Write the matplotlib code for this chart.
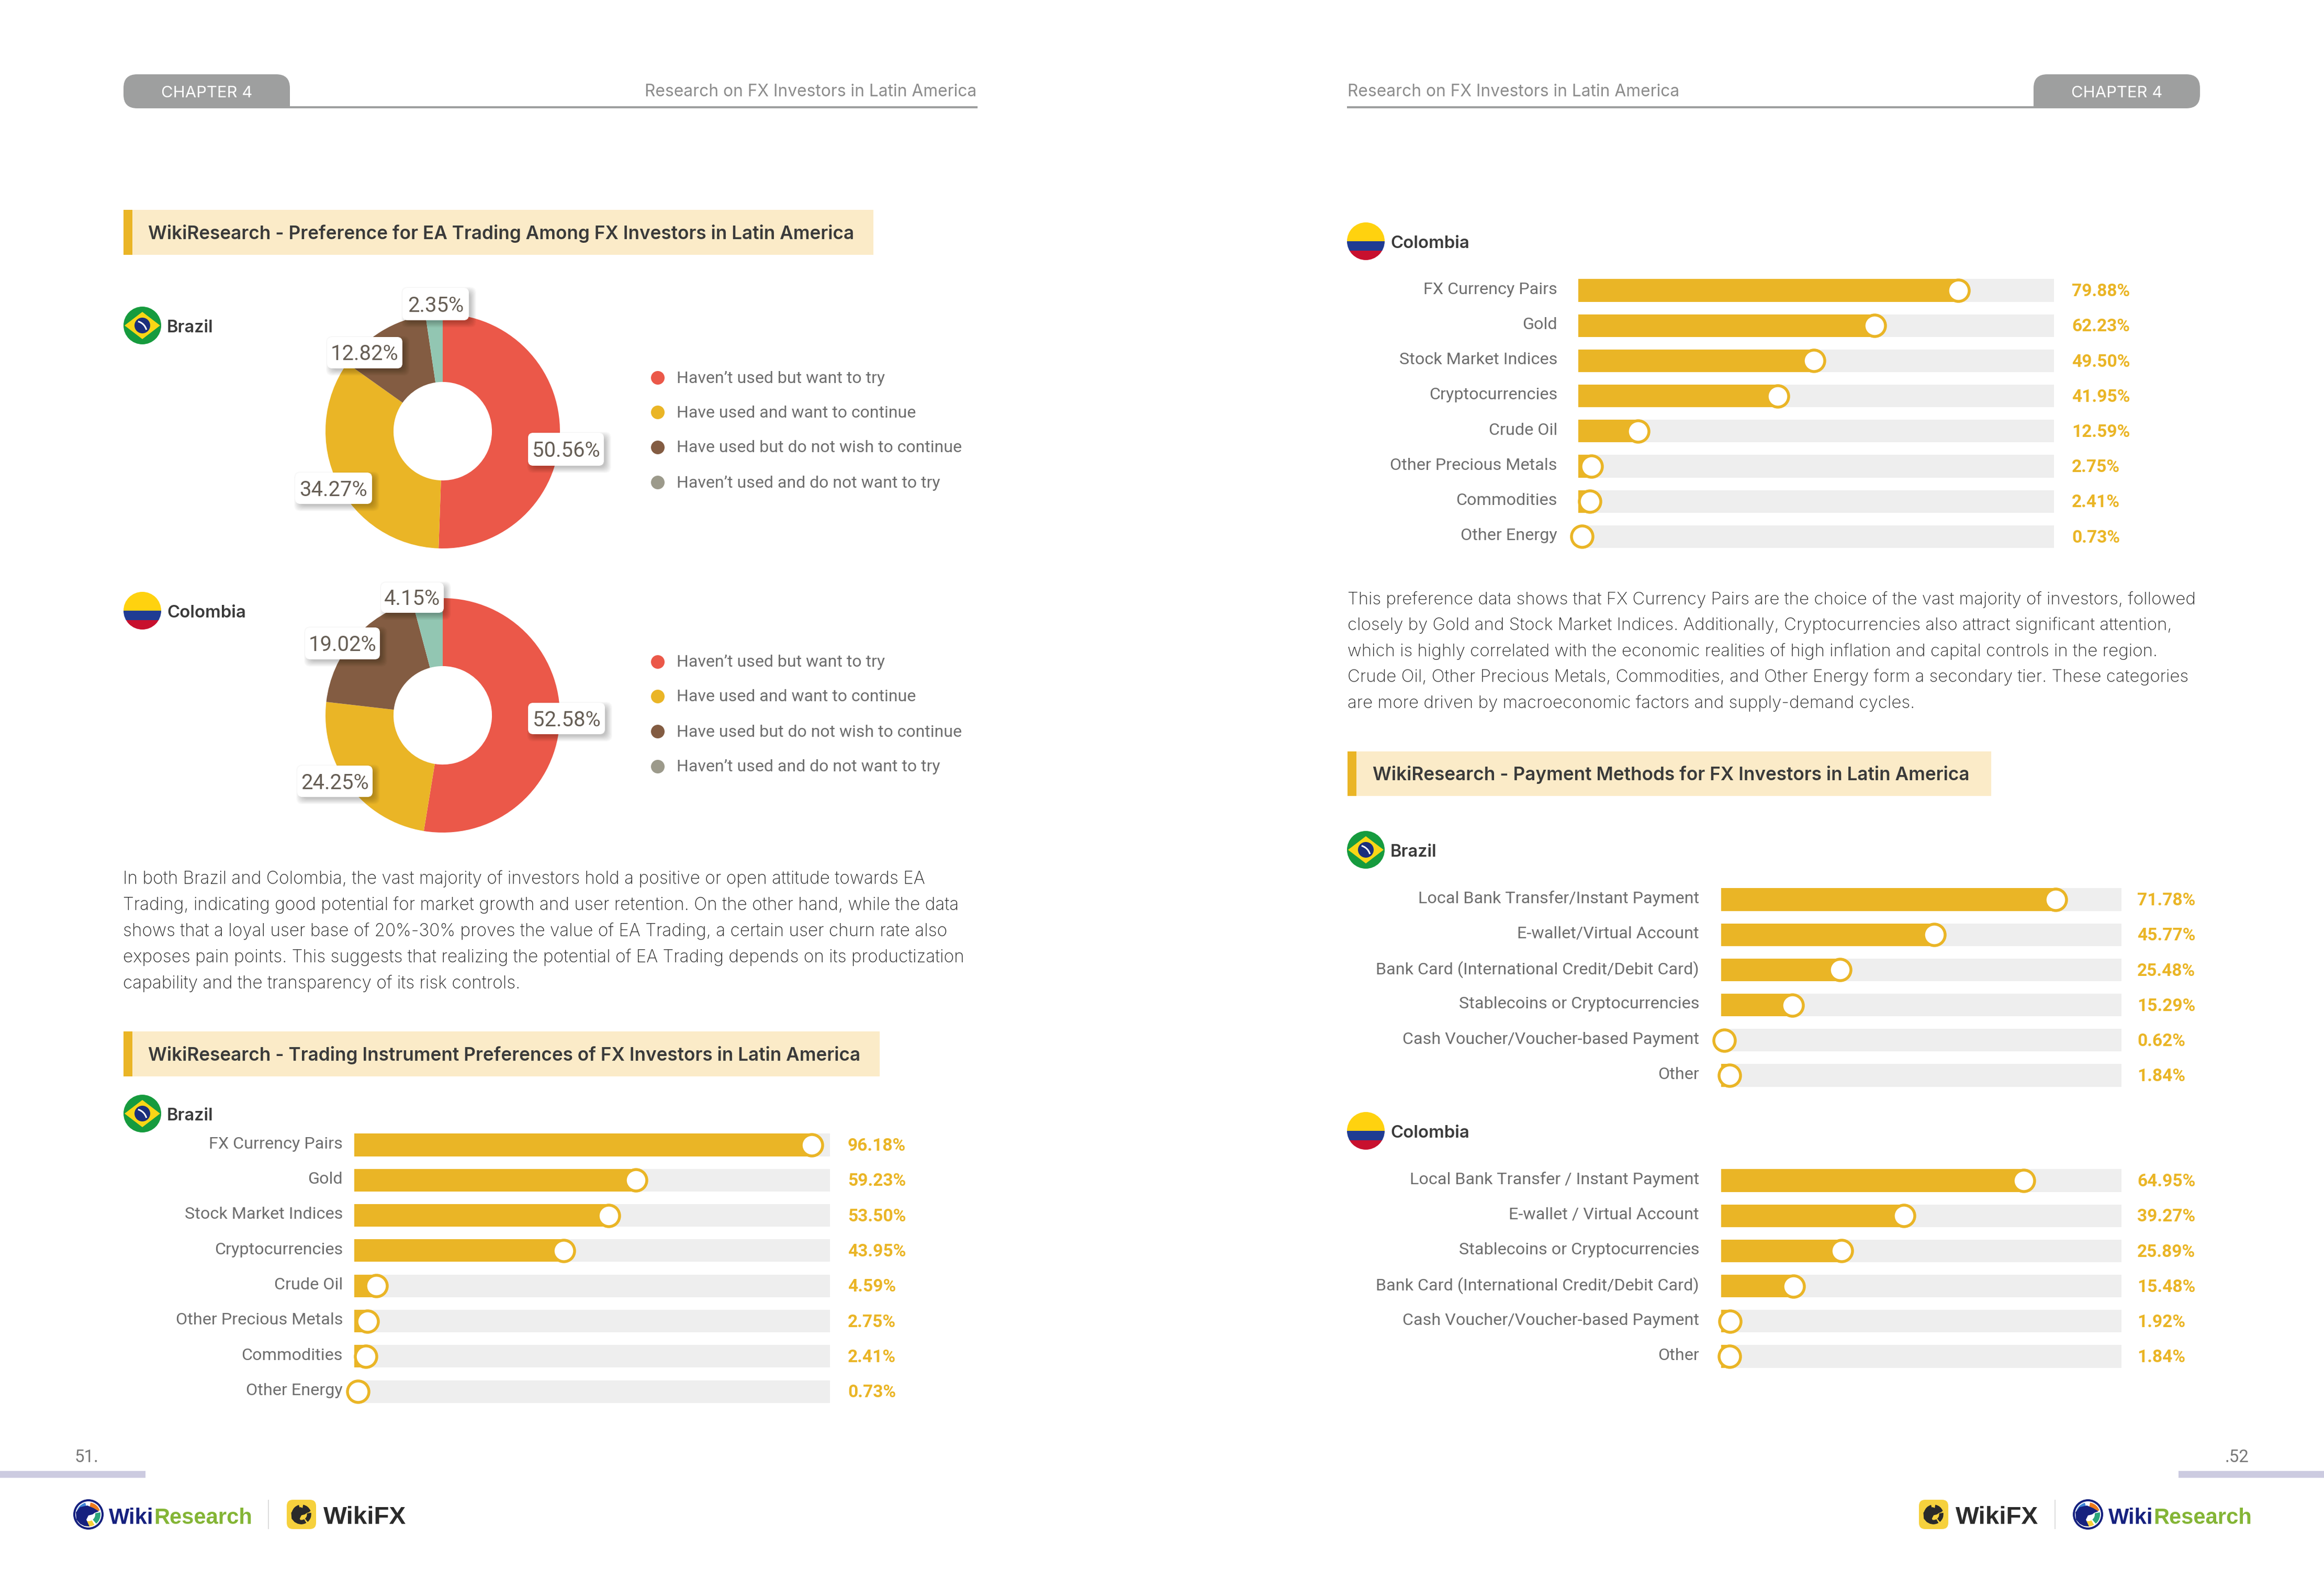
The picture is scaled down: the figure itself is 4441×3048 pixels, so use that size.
import matplotlib
matplotlib.use('Agg')
import matplotlib.pyplot as plt
from matplotlib.patches import Circle, Ellipse, FancyBboxPatch, Polygon, Rectangle, Wedge

W, H = 4441, 3048

YELLOW = '#EAB526'
TRACK = '#EEEEEE'
BAND = '#FBEBC8'
GREY_TXT = '#6E6E6E'
DARK_TXT = '#3A3A3A'
PIE_TXT = '#665E55'
NAVY = '#16217F'
GREEN = '#84B536'

# data
pie_colors = ['#EB5849', '#EAB526', '#835C42', '#92C6B2']
legend_colors = ['#EB5849', '#EAB526', '#835C42', '#9C9A8B']
legend_labels = ['Haven’t used but want to try', 'Have used and want to continue',
                 'Have used but do not wish to continue', 'Haven’t used and do not want to try']
ea_brazil = [50.56, 34.27, 12.82, 2.35]
ea_colombia = [52.58, 24.25, 19.02, 4.15]

instruments = ['FX Currency Pairs', 'Gold', 'Stock Market Indices', 'Cryptocurrencies',
               'Crude Oil', 'Other Precious Metals', 'Commodities', 'Other Energy']
instr_brazil = [96.18, 59.23, 53.50, 43.95, 4.59, 2.75, 2.41, 0.73]
instr_colombia = [79.88, 62.23, 49.50, 41.95, 12.59, 2.75, 2.41, 0.73]

pay_brazil_labels = ['Local Bank Transfer/Instant Payment', 'E-wallet/Virtual Account',
                     'Bank Card (International Credit/Debit Card)', 'Stablecoins or Cryptocurrencies',
                     'Cash Voucher/Voucher-based Payment', 'Other']
pay_brazil = [71.78, 45.77, 25.48, 15.29, 0.62, 1.84]
pay_colombia_labels = ['Local Bank Transfer / Instant Payment', 'E-wallet / Virtual Account',
                       'Stablecoins or Cryptocurrencies', 'Bank Card (International Credit/Debit Card)',
                       'Cash Voucher/Voucher-based Payment', 'Other']
pay_colombia = [64.95, 39.27, 25.89, 15.48, 1.92, 1.84]

body_left = ['In both Brazil and Colombia, the vast majority of investors hold a positive or open attitude towards EA',
             'Trading, indicating good potential for market growth and user retention. On the other hand, while the data',
             'shows that a loyal user base of 20%-30% proves the value of EA Trading, a certain user churn rate also',
             'exposes pain points. This suggests that realizing the potential of EA Trading depends on its productization',
             'capability and the transparency of its risk controls.']
body_right = ['This preference data shows that FX Currency Pairs are the choice of the vast majority of investors, followed',
              'closely by Gold and Stock Market Indices. Additionally, Cryptocurrencies also attract significant attention,',
              'which is highly correlated with the economic realities of high inflation and capital controls in the region.',
              'Crude Oil, Other Precious Metals, Commodities, and Other Energy form a secondary tier. These categories',
              'are more driven by macroeconomic factors and supply-demand cycles.']

fig = plt.figure(figsize=(W / 100, H / 100), dpi=100, facecolor='white')
px = 0.72  # one pixel in points at dpi 100


def axes_px(left, top, width, height):
    return fig.add_axes([left / W, 1 - (top + height) / H, width / W, height / H])


ov = axes_px(0, 0, W, H)
ov.set_xlim(0, W)
ov.set_ylim(H, 0)
ov.axis('off')
ov.set_zorder(10)
ov.patch.set_alpha(0)


def txt(x, y, s, size, color=GREY_TXT, ha='left', family='Roboto', weight='normal', zorder=5):
    return ov.text(x, y, s, fontsize=size * px, color=color, ha=ha, va='center_baseline',
                   family=family, fontweight=weight, zorder=zorder)


def header_tab(left, right, line_from, line_to, tab_left_side):
    r = 26
    ov.add_patch(FancyBboxPatch((left + r, 142 + r), right - left - 2 * r, 65 - 2 * r,
                                boxstyle=f'round,pad={r},rounding_size={r}', fc='#9E9F9F', ec='none'))
    # square off the bottom corner next to the rule
    if tab_left_side:
        ov.add_patch(Rectangle((right - r, 207 - r), r, r, fc='#9E9F9F', ec='none'))
    else:
        ov.add_patch(Rectangle((left, 207 - r), r, r, fc='#9E9F9F', ec='none'))
    ov.add_patch(Rectangle((line_from, 203), line_to - line_from, 4, fc='#9E9F9F', ec='none'))


def band(left, right, top, bottom, text, text_x):
    ov.add_patch(Rectangle((left, top), right - left, bottom - top, fc=BAND, ec='none'))
    ov.add_patch(Rectangle((left, top), 17, bottom - top, fc=YELLOW, ec='none'))
    txt(text_x, (top + bottom) / 2 - 1, text, 35.2, DARK_TXT, family='Inter', weight='semibold')


def flag_brazil(cx, cy, label):
    r = 36
    ov.add_patch(Circle((cx, cy), r, fc='#169B3E', ec='none'))
    ov.add_patch(Polygon([(cx - r + 2, cy), (cx, cy - r + 10), (cx + r - 2, cy), (cx, cy + r - 10)],
                         fc='#F9D616', ec='none'))
    ov.add_patch(Circle((cx, cy), 15, fc='#1B2F7C', ec='none'))
    ov.add_patch(Wedge((cx - 14, cy + 14), 24, -75, -15, width=3, fc='white', ec='none'))
    txt(cx + 47, cy + 1, label, 32.5, DARK_TXT, family='Inter', weight='semibold')


def flag_colombia(cx, cy, label):
    r = 36
    clip = Circle((cx, cy), r, transform=ov.transData)
    for top, h, c in [(cy - r, r, '#FFD20F'), (cy, r * 0.5, '#1F3C93'), (cy + r * 0.5, r * 0.5, '#C8102E')]:
        p = Rectangle((cx - r, top), 2 * r, h, fc=c, ec='none')
        ov.add_patch(p)
        p.set_clip_path(clip)
    txt(cx + 47, cy + 1, label, 33, DARK_TXT, family='Inter', weight='semibold')


def label_box(x0, x1, y0, y1, s):
    # soft shadow from stacked faint boxes
    for i in range(12, 0, -1):
        ov.add_patch(FancyBboxPatch((x0 + 10, y0 + 10), x1 - x0 - 8, y1 - y0 - 8,
                                    boxstyle=f'round,pad={i},rounding_size=12',
                                    fc='black', ec='none', alpha=0.018, zorder=3))
    ov.add_patch(FancyBboxPatch((x0 + 6, y0 + 6), x1 - x0 - 12, y1 - y0 - 12,
                                boxstyle='round,pad=6,rounding_size=10', fc='white', ec='none', zorder=4))
    txt((x0 + x1) / 2, (y0 + y1) / 2 - 1, s, 40, PIE_TXT, ha='center')


def donut(vals, cx, cy, boxes, legend_y):
    R = 224
    ax = axes_px(cx - R, cy - R, 2 * R, 2 * R)
    ax.pie(vals, colors=pie_colors, startangle=90, counterclock=False, radius=1,
           wedgeprops=dict(width=0.58, linewidth=0))
    ax.set_xlim(-1, 1)
    ax.set_ylim(-1, 1)
    for v, b in zip(vals, boxes):
        label_box(*b, f'{v:.2f}%')
    for y, c, s in zip(legend_y, legend_colors, legend_labels):
        ov.add_patch(Circle((1257, y), 13, fc=c, ec='none'))
        txt(1293, y - 2, s, 32)


def hbars(labels, vals, left, width, first_y, spacing, xmax, value_x, label_x):
    n = len(vals)
    ax = axes_px(left, first_y - spacing / 2, width, spacing * n)
    ys = list(range(n))
    ax.barh(ys, [xmax] * n, height=0.64, color=TRACK, linewidth=0)
    ax.barh(ys, vals, height=0.64, color=YELLOW, linewidth=0)
    ax.plot(vals, ys, 'o', ms=41 * px, mfc='white', mec=YELLOW, mew=5.5 * px, clip_on=False, zorder=5)
    ax.set_xlim(0, xmax)
    ax.set_ylim(n - 0.5, -0.5)
    ax.axis('off')
    tr = ax.get_yaxis_transform()
    for y, lab, v in zip(ys, labels, vals):
        ax.text((label_x - left) / width, y - 0.07, lab, transform=tr, ha='right', va='center_baseline',
                fontsize=32.4 * px, color=GREY_TXT, family='Roboto')
        ax.text((value_x - left) / width, y - 0.02, f'{v:.2f}%', transform=tr, ha='left', va='center_baseline',
                fontsize=33.5 * px, color=YELLOW, family='Roboto', fontweight='bold')


def logo_mark(cx, cy, r, ring, eagle, seg_colors):
    s = r / 27
    if ring:
        ov.add_patch(Ellipse((cx, cy), 2 * r, 2 * r, fc='white', ec=ring, lw=4 * px))
    for (a0, a1), c in zip([(105, 165), (20, 80), (-50, 10), (-125, -60)], seg_colors):
        ov.add_patch(Wedge((cx, cy), r - 4 * s, -a1, -a0, width=10 * s, fc=c, ec='none'))
    pts = [(-23, 10), (-24, -4), (-16, -14), (-2, -17), (10, -12), (20, -6), (12, -3), (8, 0),
           (0, 2), (-4, 10), (2, 23), (-8, 22), (-16, 18)]
    ov.add_patch(Polygon([(cx + s * a, cy + s * b) for a, b in pts], fc=eagle, ec='none'))


def logo_research(x, text_x):
    logo_mark(x, 2894, 27, NAVY, NAVY, ['#3F86D8', '#EE7B1E', '#2BA57A', '#F7D038'])
    t = txt(text_x, 2897, 'Wiki', 41.8, NAVY, family='Liberation Sans', weight='bold')
    fig.canvas.draw()
    bb = t.get_window_extent()
    txt(bb.x1 + 1, 2897, 'Research', 41.8, GREEN, family='Liberation Sans', weight='bold')


def logo_fx(x0, text_x):
    ov.add_patch(FancyBboxPatch((x0 + 12, 2866 + 12), 32, 32, boxstyle='round,pad=12,rounding_size=12',
                                fc='#F6D13D', ec='none'))
    logo_mark(x0 + 28, 2894, 22, None, '#2A2A2A', ['#2A2A2A'] * 4)
    txt(text_x, 2895, 'WikiFX', 47.5, '#2B2B2B', family='Liberation Sans', weight='bold')


# page furniture
header_tab(236, 554, 554, 1868, True)
txt(395, 175, 'CHAPTER 4', 31, 'white', ha='center', family='Inter')
txt(1866, 172, 'Research on FX Investors in Latin America', 31.7, '#8C8C8C', ha='right', family='Inter')
header_tab(3886, 4204, 2574, 3886, False)
txt(4045, 175, 'CHAPTER 4', 31, 'white', ha='center', family='Inter')
txt(2575, 172, 'Research on FX Investors in Latin America', 31.7, '#8C8C8C', family='Inter')

band(236, 1669, 401, 487, 'WikiResearch - Preference for EA Trading Among FX Investors in Latin America', 283)
band(236, 1681, 1971, 2057, 'WikiResearch - Trading Instrument Preferences of FX Investors in Latin America', 283)
band(2575, 3805, 1436, 1521, 'WikiResearch - Payment Methods for FX Investors in Latin America', 2623)

flag_brazil(272, 622, 'Brazil')
flag_colombia(272, 1167, 'Colombia')
flag_brazil(272, 2128, 'Brazil')
flag_colombia(2610, 461, 'Colombia')
flag_brazil(2610, 1624, 'Brazil')
flag_colombia(2610, 2161, 'Colombia')

# donuts
donut(ea_brazil, 846, 824,
      [(1009, 1154, 827, 890), (564, 711, 903, 963), (625, 769, 644, 704), (769, 896, 550, 612)],
      [722, 788, 855, 922])
donut(ea_colombia, 846, 1367,
      [(1009, 1156, 1343, 1403), (568, 712, 1463, 1523), (583, 726, 1199, 1260), (728, 848, 1113, 1171)],
      [1265, 1331, 1398, 1465])

# body text
for i, line in enumerate(body_left):
    txt(235, 1676 + i * 50, line, 33.3, '#303030', family='Inter', weight='light')
for i, line in enumerate(body_right):
    txt(2575, 1142 + i * 49.6, line, 33, '#303030', family='Inter', weight='light')

# bar panels
hbars(instruments, instr_brazil, 677, 909, 2188, 67.3, 100, 1620, 655)
hbars(instruments, instr_colombia, 3016, 909, 555, 67.2, 100, 3959, 2976)
hbars(pay_brazil_labels, pay_brazil, 3289, 765, 1719, 67.2, 86, 4084, 3247)
hbars(pay_colombia_labels, pay_colombia, 3289, 765, 2256, 67.2, 86, 4084, 3247)

# footer
txt(143, 2781, '51.', 33, '#777777')
txt(4298, 2781, '.52', 33, '#777777', ha='right')
ov.add_patch(Rectangle((0, 2811), 278, 13, fc='#CCCBE0', ec='none'))
ov.add_patch(Rectangle((4163, 2811), 278, 13, fc='#CCCBE0', ec='none'))
logo_research(169, 208)
ov.add_patch(Rectangle((512, 2866), 2, 56, fc='#DDDDDD', ec='none'))
logo_fx(548, 618)
logo_fx(3667, 3737)
ov.add_patch(Rectangle((3926, 2866), 2, 56, fc='#DDDDDD', ec='none'))
logo_research(3990, 4029)

fig.savefig('out.png', dpi=100)
